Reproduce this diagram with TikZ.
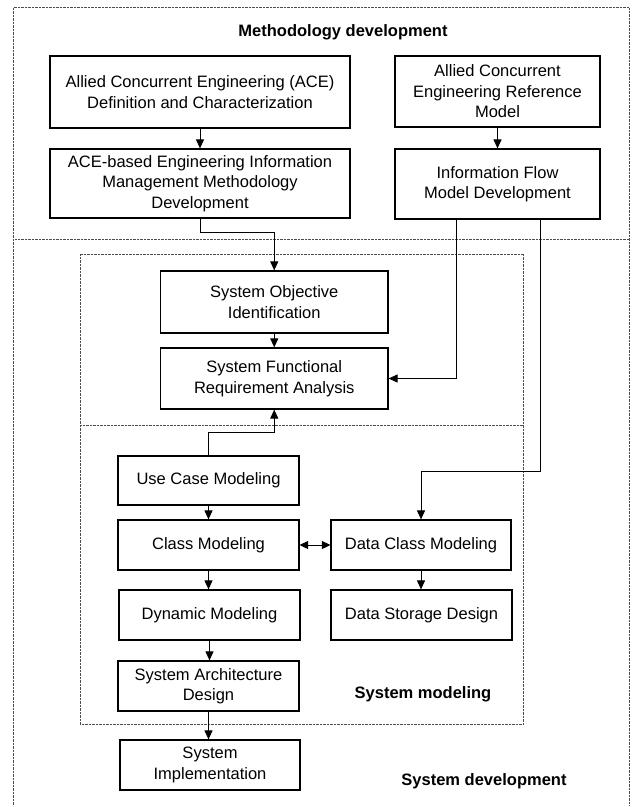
\documentclass[tikz,border=0pt]{standalone}
\usepackage{fontspec}
\setmainfont{Liberation Sans}
\usetikzlibrary{arrows.meta}
\begin{document}
\begin{tikzpicture}[x=1pt,y=-1pt,
  box/.style={draw, line width=1.2pt, inner sep=0pt, align=center, font=\fontsize{16.5}{20.5}\selectfont},
  arr/.style={line width=1pt, -{Triangle[length=9pt,width=8pt]}},
  darr/.style={line width=1pt, {Triangle[length=8.5pt,width=8pt]}-{Triangle[length=8.5pt,width=8pt]}},
  dots/.style={line width=0.7pt, dash pattern=on 0.7pt off 0.7pt, black!70},
  lbl/.style={font=\fontsize{16.5}{20}\selectfont\bfseries}]
\useasboundingbox (0,0) rectangle (635,807);
% dotted frames
\draw[dots] (13.4,805) -- (13.4,7.3) -- (629,7.3) -- (629,805);
\draw[dots] (15,239) -- (629,239);
\draw[dots] (80,254) rectangle (523.6,724);
\draw[dots] (80,425) -- (523.6,425);
% labels
\node[lbl] (t1) at (343,32) {Methodology development};
\node[lbl] (t2) at (423,694) {System modeling};
\node[lbl] (t3) at (484,781) {System development};
% boxes
\node[box, minimum width=300, minimum height=72] (A) at (200,92) {Allied Concurrent Engineering (ACE)\\Definition and Characterization};
\node[box, minimum width=205, minimum height=71] (B) at (497.5,91.5) {Allied Concurrent\\Engineering Reference\\Model};
\node[box, minimum width=300, minimum height=69] (C) at (200,183.5) {ACE-based Engineering Information\\Management Methodology\\Development};
\node[box, minimum width=205, minimum height=70] (D) at (497.5,184) {Information Flow\\Model Development};
\node[box, minimum width=227.5, minimum height=62] (SO) at (274.25,302) {System Objective\\Identification};
\node[box, minimum width=227.5, minimum height=61] (SF) at (274.25,378.5) {System Functional\\Requirement Analysis};
\node[box, minimum width=181, minimum height=49] (UC) at (208.5,480.5) {Use Case Modeling};
\node[box, minimum width=181, minimum height=50] (CM) at (208.5,545) {Class Modeling};
\node[box, minimum width=180, minimum height=50] (DC) at (421,545) {Data Class Modeling};
\node[box, minimum width=181, minimum height=50] (DM) at (209.5,615) {Dynamic Modeling};
\node[box, minimum width=181, minimum height=50] (DS) at (421.5,615) {Data Storage Design};
\node[box, minimum width=181, minimum height=50] (SA) at (208.5,686) {System Architecture\\Design};
\node[box, minimum width=180, minimum height=50] (SI) at (210,765) {System\\Implementation};
% connectors
\draw[arr] (A.south) -- (A.south |- C.north);
\draw[arr] (B.south) -- (B.south |- D.north);
\draw[arr] (C.south) -- ++(0,14) -| (SO.north);
\draw[arr] (SO.south) -- (SO.south |- SF.north);
\draw[arr] ([xshift=-41.5pt]D.south) |- (SF.east);
\draw[arr] ([xshift=43pt]D.south) -- ++(0,252) -| (DC.north);
\draw[arr] (UC.north) -- ++(0,-23) -| (SF.south);
\draw[arr] (UC.south) -- (UC.south |- CM.north);
\draw[darr] (CM.east) -- (DC.west);
\draw[arr] (CM.south) -- (CM.south |- DM.north);
\draw[arr] (DC.south) -- (DC.south |- DS.north);
\draw[arr] (DM.south) -- (DM.south |- SA.north);
\draw[arr] (SA.south) -- (SA.south |- SI.north);
\end{tikzpicture}
\end{document}
